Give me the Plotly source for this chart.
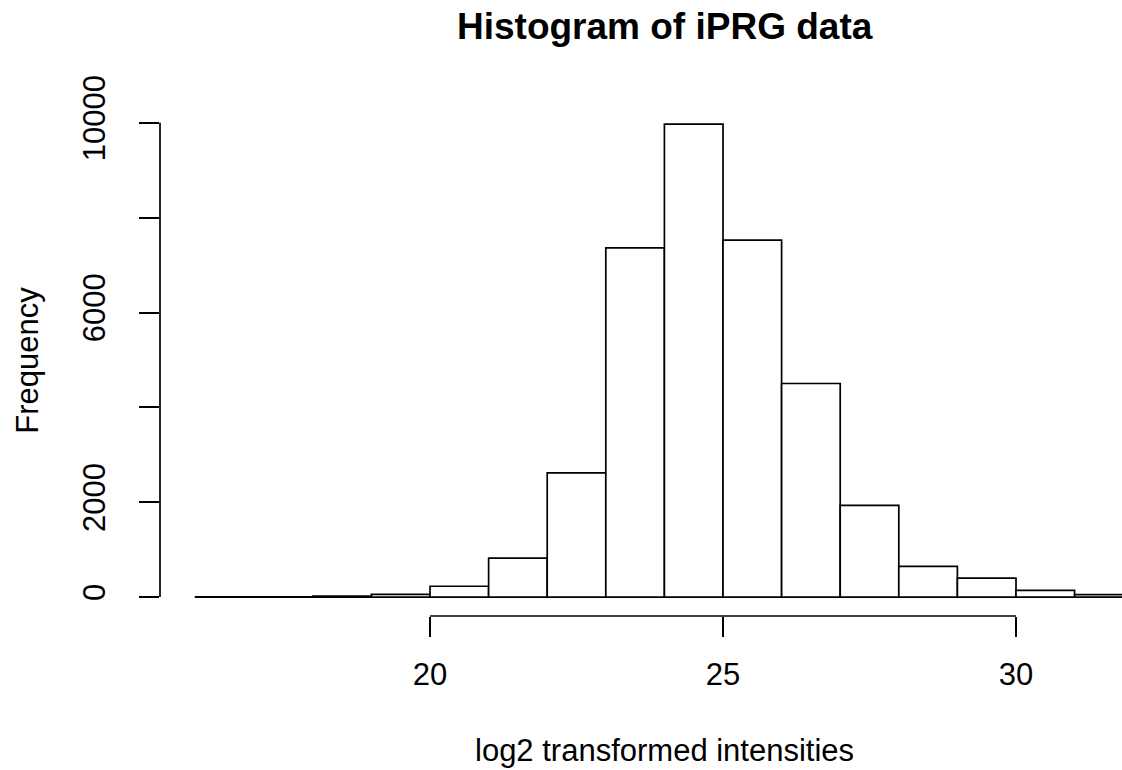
import plotly.graph_objects as go

# Histogram bins (left edges, width 1) and counts
bin_left = [16, 17, 18, 19, 20, 21, 22, 23, 24, 25, 26, 27, 28, 29, 30, 31]
counts = [3, 5, 20, 55, 228, 823, 2617, 7363, 9972, 7525, 4503, 1935, 648, 401, 141, 50]
x_ticks = [20, 25, 30]
y_ticks = [0, 2000, 4000, 6000, 8000, 10000]
y_tick_labels = ["0", "2000", "", "6000", "", "10000"]

bin_width = 1
bin_mid = [b + bin_width / 2 for b in bin_left]

W, H = 1122, 770
L, R, T, B = 160, 0, 105, 154.4
plot_h = H - T - B
plot_w = W - L - R

def py(p):
    return (H - B - p) / plot_h

def px(p):
    return (p - L) / plot_w

FONT = "Liberation Sans, Arial, Helvetica, sans-serif"
LW = 1.7

fig = go.Figure()
fig.add_trace(go.Bar(
    x=bin_mid, y=counts, width=bin_width,
    marker=dict(color="white", line=dict(color="black", width=LW)),
    hoverinfo="x+y",
))

fig.update_layout(
    width=W, height=H,
    margin=dict(l=L, r=R, t=T, b=B, pad=0),
    paper_bgcolor="white", plot_bgcolor="white",
    showlegend=False,
    font=dict(family=FONT, color="black", size=31),
    xaxis=dict(
        range=[15.392, 31.809], showgrid=False, zeroline=False, showline=False,
        tickmode="array", tickvals=x_ticks, ticktext=[str(v) for v in x_ticks],
        ticks="outside", ticklen=20, tickwidth=LW, tickcolor="black",
        tickfont=dict(size=31, family=FONT), ticklabelstandoff=11,
    ),
    yaxis=dict(
        range=[-399, 10375], showgrid=False, zeroline=False, showline=False,
        tickmode="array", tickvals=y_ticks, ticktext=y_tick_labels,
        ticks="outside", ticklen=20, tickwidth=LW, tickcolor="black",
        tickangle=-90, tickfont=dict(size=31, family=FONT), ticklabelstandoff=22,
    ),
    shapes=[
        dict(type="line", xref="x", yref="paper", x0=x_ticks[0], x1=x_ticks[-1], y0=0, y1=0,
             line=dict(color="black", width=LW)),
        dict(type="line", xref="paper", yref="y", x0=0, x1=0, y0=y_ticks[0], y1=y_ticks[-1],
             line=dict(color="black", width=LW)),
    ],
    annotations=[
        dict(text="<b>Histogram of iPRG data</b>", xref="paper", yref="paper",
             x=px(664.5), y=py(27), xanchor="center", yanchor="middle", showarrow=False,
             font=dict(size=37, family=FONT, color="black")),
        dict(text="log2 transformed intensities", xref="paper", yref="paper",
             x=px(664), y=py(750), xanchor="center", yanchor="middle", showarrow=False,
             font=dict(size=31, family=FONT, color="black")),
        dict(text="Frequency", xref="paper", yref="paper", textangle=-90,
             x=px(27.5), y=py(360), xanchor="center", yanchor="middle", showarrow=False,
             font=dict(size=31, family=FONT, color="black")),
    ],
)

fig.write_html("out.html")
